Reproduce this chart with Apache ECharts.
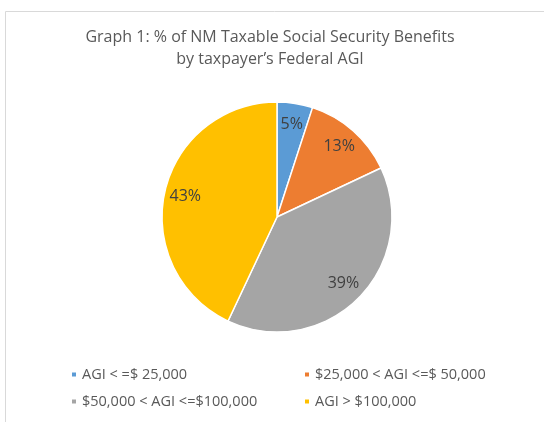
<!DOCTYPE html>
<html>
<head>
<meta charset="utf-8">
<script src="https://cdn.jsdelivr.net/npm/echarts@6/dist/echarts.min.js"></script>
<style>
html,body{margin:0;padding:0;background:#fff;}
#chart{width:544px;height:422px;}
</style>
</head>
<body>
<div id="chart"></div>
<script>
var categories = ['AGI < =$ 25,000', '$25,000 < AGI <=$ 50,000', '$50,000 < AGI <=$100,000', 'AGI > $100,000'];
var values = [5, 13, 39, 43];
var colors = ['#5B9BD5', '#ED7D31', '#A5A5A5', '#FFC000'];
var titleText = 'Graph 1: % of NM Taxable Social Security Benefits\nby taxpayer\u2019s Federal AGI';

var FONT = 'Open Sans';
var chart = echarts.init(document.getElementById('chart'), null, {renderer: 'canvas'});
var data = categories.map(function (c, i) { return {name: c, value: values[i]}; });
var labelData = categories.map(function (c, i) { return {name: c, value: values[i]}; });

chart.setOption({
  animation: false,
  color: colors,
  title: {
    text: titleText,
    left: 265,
    top: 21,
    textAlign: 'center',
    textStyle: {fontFamily: FONT, fontSize: 16, fontWeight: 'normal', color: '#595959', lineHeight: 22}
  },
  graphic: [{
    type: 'polyline',
    silent: true,
    shape: {points: [[5.5, 422], [5.5, 11.5], [544, 11.5]]},
    style: {stroke: '#d9d9d9', lineWidth: 1, fill: null}
  }],
  legend: [{
    orient: 'vertical',
    left: 70,
    top: 366,
    padding: 0,
    itemWidth: 6,
    itemHeight: 6,
    itemGap: 10,
    icon: 'rect',
    data: [categories[0], categories[2]],
    textStyle: {fontFamily: FONT, fontSize: 14.5, color: '#595959', lineHeight: 17}
  }, {
    orient: 'vertical',
    left: 303,
    top: 366,
    padding: 0,
    itemWidth: 6,
    itemHeight: 6,
    itemGap: 10,
    icon: 'rect',
    data: [categories[1], categories[3]],
    textStyle: {fontFamily: FONT, fontSize: 14.5, color: '#595959', lineHeight: 17}
  }],
  series: [{
    type: 'pie',
    center: [277, 217],
    radius: [0, 115],
    startAngle: 90,
    clockwise: true,
    label: {show: false},
    labelLine: {show: false},
    itemStyle: {borderColor: '#ffffff', borderWidth: 1.5},
    emphasis: {disabled: true},
    data: data
  }, {
    type: 'pie',
    center: [277, 217],
    radius: [0, 182],
    startAngle: 90,
    clockwise: true,
    silent: true,
    z: 3,
    itemStyle: {color: 'rgba(0,0,0,0)', borderWidth: 0},
    label: {
      show: true,
      position: 'inside',
      formatter: function (p) { return Math.round(p.value) + '%'; },
      fontFamily: FONT,
      fontSize: 16,
      color: '#404040'
    },
    labelLine: {show: false},
    emphasis: {disabled: true},
    data: labelData
  }]
});
</script>
</body>
</html>
